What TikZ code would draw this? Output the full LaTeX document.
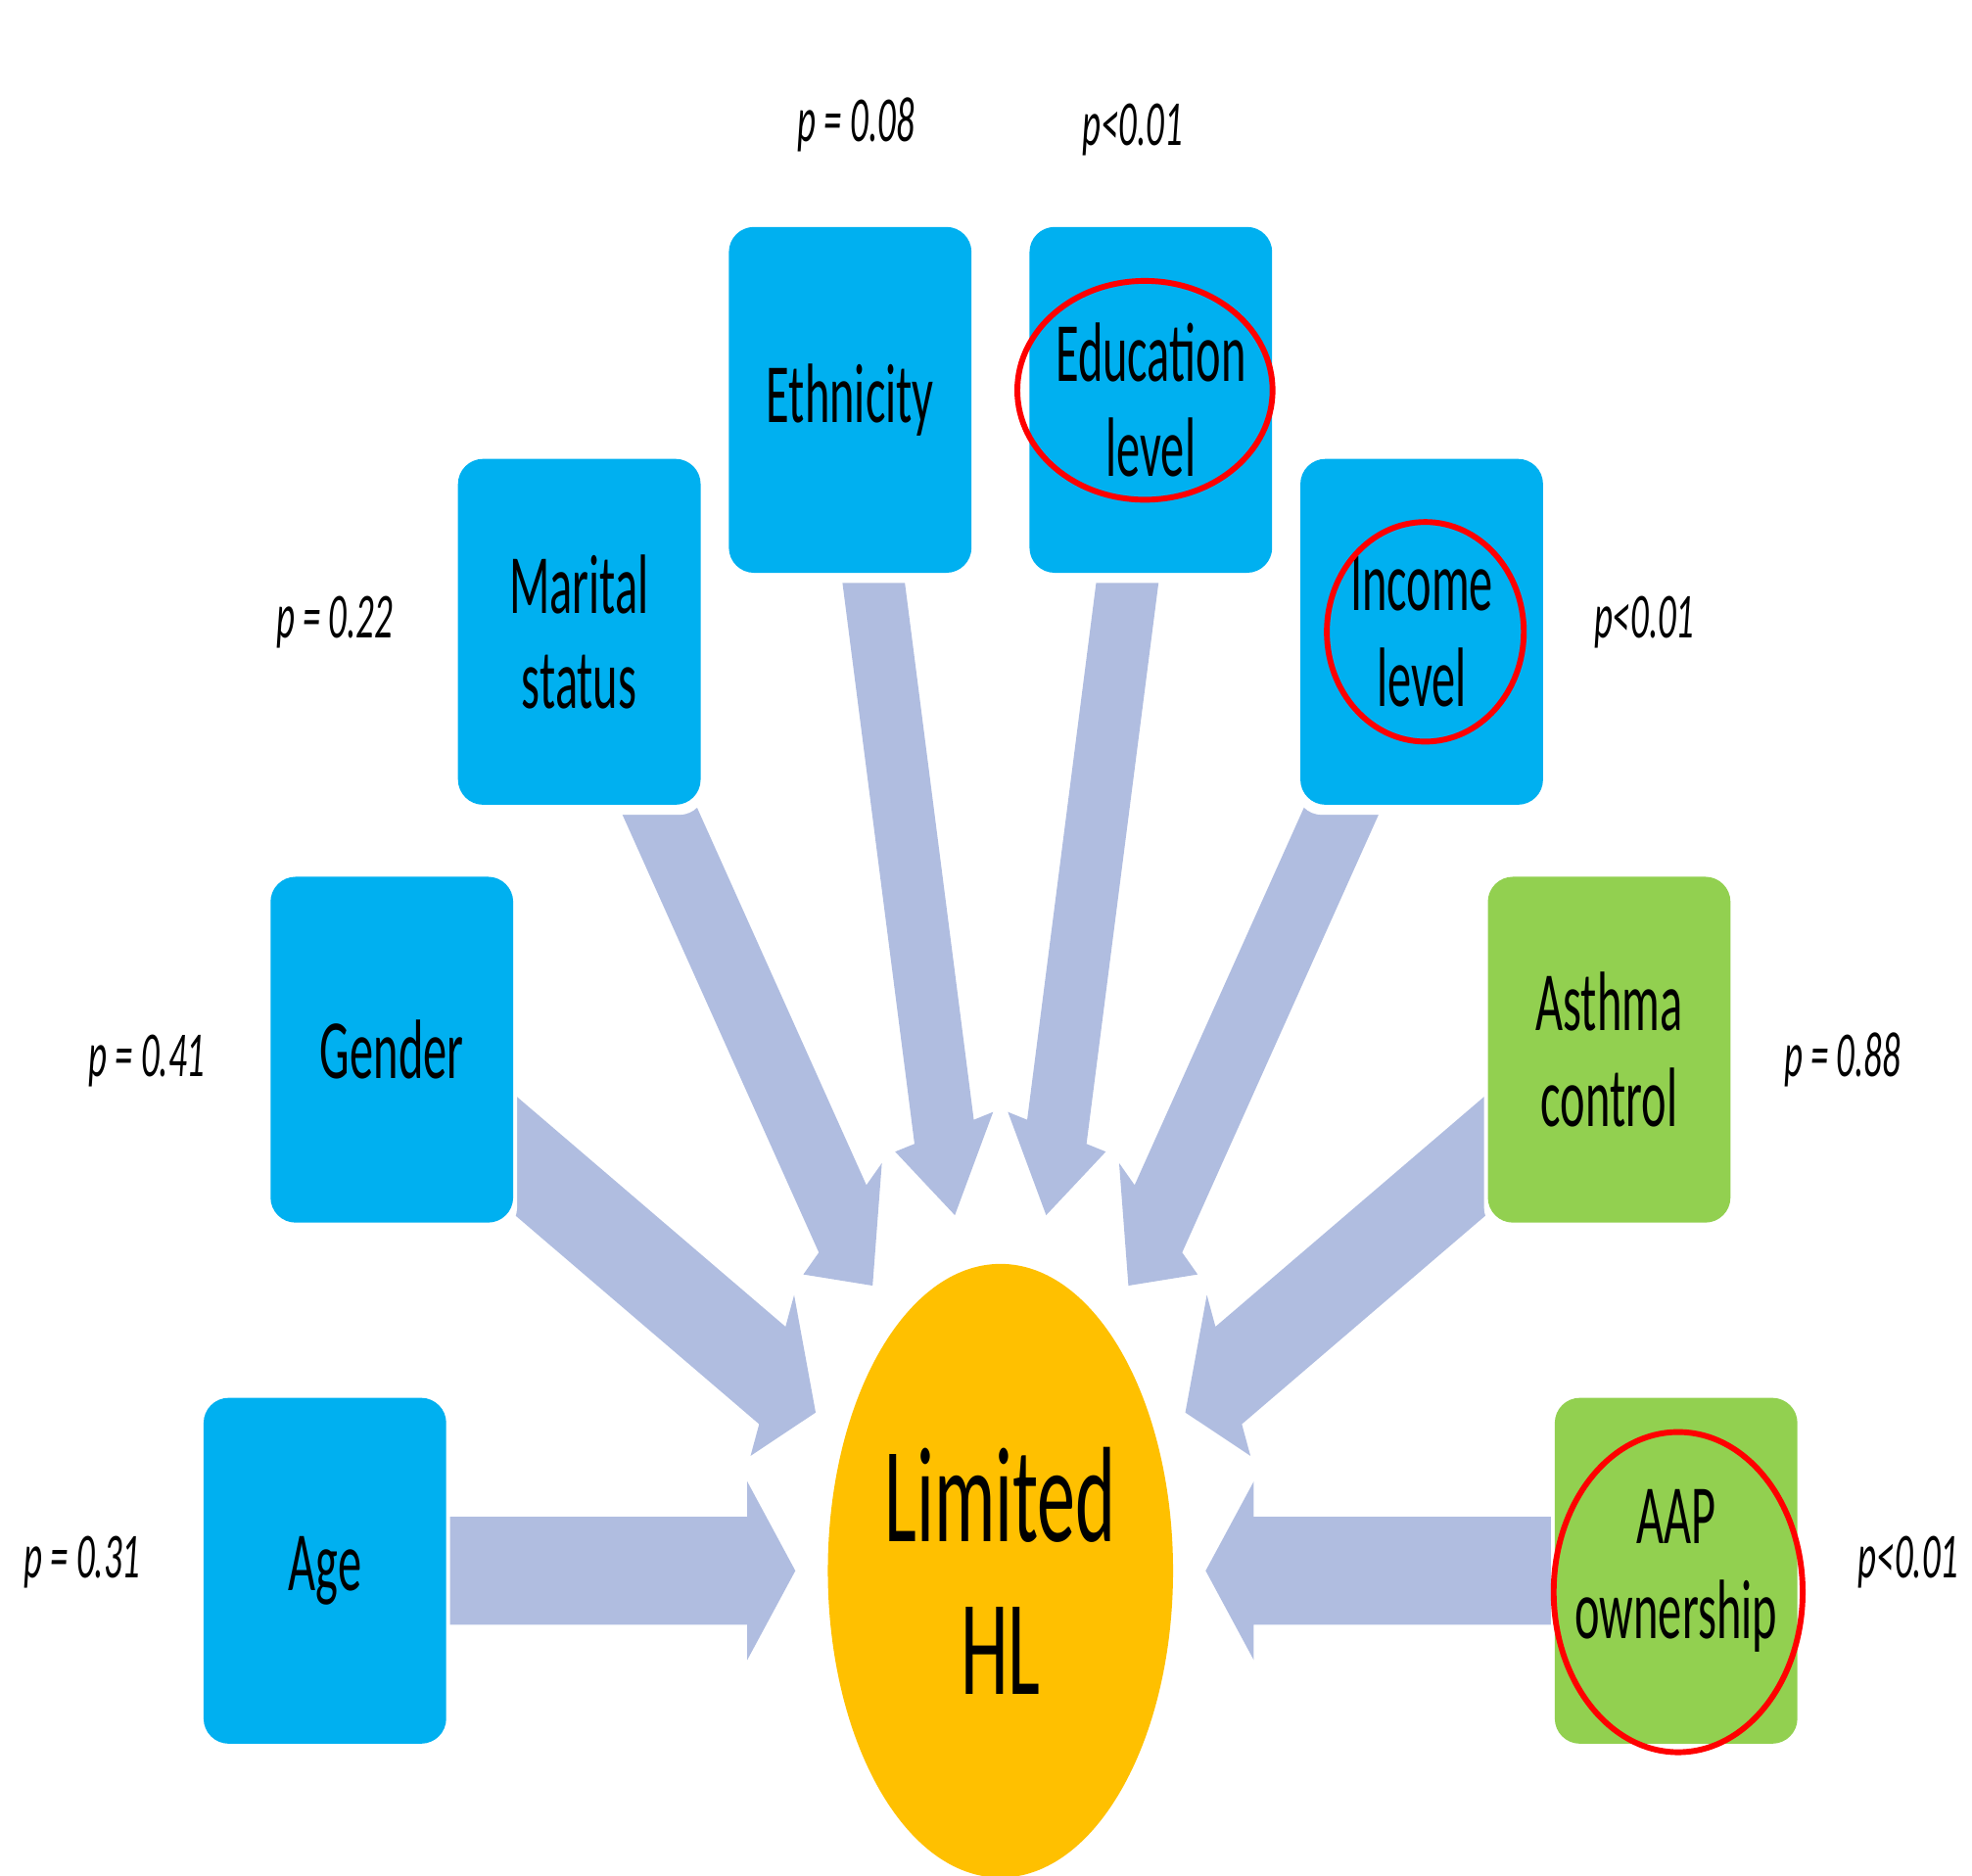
\documentclass[tikz,border=0pt]{standalone}
\usepackage{fontspec}
\setmainfont{Carlito}
\usetikzlibrary{calc}
\pgfdeclarelayer{back}
\pgfsetlayers{back,main}
\definecolor{boxblue}{HTML}{00B0F0}
\definecolor{boxgreen}{HTML}{92D050}
\definecolor{hlgold}{HTML}{FFC000}
\definecolor{arrowc}{HTML}{B0BDE0}
\definecolor{ringred}{HTML}{FF0000}
% block arrow from box #1 towards node HL; #2 = direction angle (HL -> box)
\newcommand\radarrow[2]{%
  \begin{scope}[shift={(HL.center)}, rotate=#2]
    \fill[arrowc] (290,0) -- (358,71) -- (358,43)
      -- ($(#1.center)!21.5pt!-90:(HL.center)$)
      -- ($(#1.center)!21.5pt!90:(HL.center)$)
      -- (358,-43) -- (358,-71) -- cycle;
  \end{scope}}
\begin{document}
\begin{tikzpicture}[x=0.5pt, y=0.5pt, xscale=0.5625,
  every node/.style={transform shape, inner sep=0pt, outer sep=0pt},
  factor/.style={rounded corners=10pt, minimum width=171.5pt, minimum height=137.5pt,
    align=center, text=black, font=\fontsize{33.5}{38}\selectfont},
  bluebox/.style={factor, fill=boxblue},
  greenbox/.style={factor, fill=boxgreen},
  hl/.style={circle, fill=hlgold, minimum size=244pt, align=center,
    font=\fontsize{54}{61}\selectfont},
  pval/.style={anchor=base, font=\fontsize{25.5}{30}\selectfont\itshape},
  ring/.style={draw=ringred, line width=2.3pt},
  halo/.style={fill=white, rounded corners=10pt}]
\useasboundingbox (0,0) rectangle (2787.6,-1491);

\node[hl] (HL) at (1414.2,-1249) {Limited\\HL};

\node[bluebox]  (age)       at ($(HL.center)+(180:955)$)      {Age};
\node[bluebox]  (gender)    at ($(HL.center)+(154.2857:955)$) {Gender};
\node[bluebox]  (marital)   at ($(HL.center)+(128.5714:955)$) {Marital\\status};
\node[bluebox]  (ethnicity) at ($(HL.center)+(102.8571:955)$) {Ethnicity};
\node[bluebox]  (education) at ($(HL.center)+(77.1429:955)$)  {Education\\level};
\node[bluebox]  (income)    at ($(HL.center)+(51.4286:955)$)  {Income\\level};
\node[greenbox] (asthma)    at ($(HL.center)+(25.7143:955)$)  {Asthma\\control};
\node[greenbox] (aap)       at ($(HL.center)+(0:955)$)        {AAP\\ownership};

\begin{pgfonlayer}{back}
  \radarrow{age}{180}
  \radarrow{gender}{154.2857}
  \radarrow{marital}{128.5714}
  \radarrow{ethnicity}{102.8571}
  \radarrow{education}{77.1429}
  \radarrow{income}{51.4286}
  \radarrow{asthma}{25.7143}
  \radarrow{aap}{0}
  \foreach \b in {age,gender,marital,ethnicity,education,income,asthma,aap}
    \fill[halo] ($(\b.south west)+(-5.5,-8)$) rectangle ($(\b.north east)+(5.5,8)$);
\end{pgfonlayer}

\draw[ring] ($(education.center)+(-8.4,7.6)$) ellipse [x radius=180.4, y radius=87];
\draw[ring] ($(income.center)+(5,0)$) ellipse [x radius=139.2, y radius=87.3];
\draw[ring] ($(aap.center)+(2.8,-17)$) ellipse [x radius=176, y radius=127.3];

\node[pval] (p1) at (116.1,-1254.8) {p = 0.31};
\node[pval] (p2) at (207.6,-855.9)  {p = 0.41};
\node[pval] (p3) at (472.9,-507.4)  {p = 0.22};
\node[pval] (p4) at (1209.8,-112.3) {p = 0.08};
\node[pval] (p5) at (1600.9,-115.9) {p<0.01};
\node[pval] (p6) at (2324.4,-507.4) {p<0.01};
\node[pval] (p7) at (2604.4,-855.9) {p = 0.88};
\node[pval] (p8) at (2697.8,-1254.8) {p<0.01};
\end{tikzpicture}
\end{document}
